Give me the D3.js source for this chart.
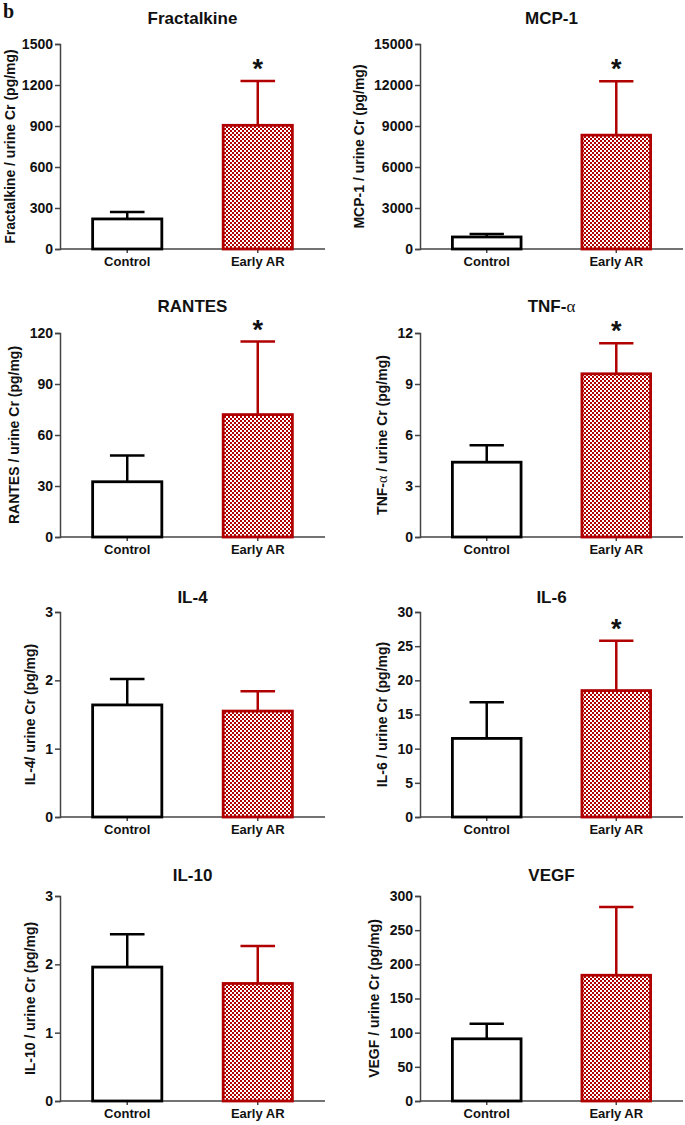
<!DOCTYPE html>
<html>
<head>
<meta charset="utf-8">
<script src="https://cdn.jsdelivr.net/npm/d3@7"></script>
<style>
  body { margin: 0; background: #fff; }
  svg text { font-family: "Liberation Sans", Arial, sans-serif; font-weight: bold; fill: #111; }
</style>
</head>
<body>
<div id="chart"></div>
<script>
// chart data
const groups = ["Control", "Early AR"];
const panelTitles = ["Fractalkine", "MCP-1", "RANTES", "TNF-α", "IL-4", "IL-6", "IL-10", "VEGF"];
const yLabels = [
  "Fractalkine / urine Cr (pg/mg)",
  "MCP-1 / urine Cr (pg/mg)",
  "RANTES / urine Cr (pg/mg)",
  "TNF-α / urine Cr (pg/mg)",
  "IL-4/ urine Cr (pg/mg)",
  "IL-6 / urine Cr (pg/mg)",
  "IL-10 / urine Cr (pg/mg)",
  "VEGF / urine Cr (pg/mg)"
];
const yMax = [1500, 15000, 120, 12, 3, 30, 3, 300];
const yStep = [300, 3000, 30, 3, 1, 5, 1, 50];
const controlMean = [220, 880, 32.5, 4.4, 1.64, 11.5, 1.96, 91];
const controlTop = [271, 1100, 48, 5.4, 2.02, 16.8, 2.44, 113];   // mean + SD
const earlyMean = [905, 8330, 72, 9.6, 1.55, 18.5, 1.72, 184];
const earlyTop = [1230, 12280, 115, 11.4, 1.84, 25.8, 2.27, 284];
const significant = [true, true, true, true, false, true, false, false];

const W = 685, H = 1125;
const red = "#b00000";
// row layout: [axis top, axis zero, title y]
const rows = [[44, 249, 24], [333, 537, 312], [612, 817, 603], [896, 1101, 881]];
const cols = [[60, 325], [420, 683]];

const svg = d3.select("#chart").append("svg")
  .attr("width", W).attr("height", H);

// checkered fill
const pat = svg.append("defs").append("pattern")
  .attr("id", "checker")
  .attr("patternUnits", "userSpaceOnUse")
  .attr("width", 4).attr("height", 4);
pat.append("rect").attr("width", 4).attr("height", 4).attr("fill", "#fff");
pat.append("rect").attr("width", 2).attr("height", 2).attr("fill", red);
pat.append("rect").attr("x", 2).attr("y", 2).attr("width", 2).attr("height", 2).attr("fill", red);

svg.append("text")
  .attr("x", 3).attr("y", 18)
  .style("font-family", "'Liberation Serif', 'Times New Roman', serif")
  .style("font-size", "20px")
  .text("b");

// writes text, with the greek alpha in a serif face like the original
function greekText(sel, str) {
  str.split(/(α)/).forEach(part => {
    if (!part) return;
    const t = sel.append("tspan").text(part);
    if (part === "α") t.style("font-family", "'Liberation Serif', serif").style("font-weight", "normal");
  });
}

panelTitles.forEach((title, i) => {
  const [top, zero, titleY] = rows[Math.floor(i / 2)];
  const [x0, x1] = cols[i % 2];

  const g = svg.append("g");

  const x = d3.scaleBand().domain(groups).range([x0, x1])
    .paddingInner(0.47).paddingOuter(0.25);
  const y = d3.scaleLinear().domain([0, yMax[i]]).range([zero, top]);

  const means = [controlMean[i], earlyMean[i]];
  const tops = [controlTop[i], earlyTop[i]];

  // title
  const tt = g.append("text")
    .attr("x", (x0 + x1) / 2).attr("y", titleY)
    .attr("text-anchor", "middle")
    .style("font-size", "17px");
  greekText(tt, title);

  // y axis
  const yAxis = g.append("g")
    .attr("transform", `translate(${x0},0)`)
    .call(d3.axisLeft(y).tickValues(d3.range(0, yMax[i] + yStep[i] / 2, yStep[i]))
      .tickFormat(d3.format("d")).tickSizeOuter(0).tickSize(5).tickPadding(2));

  // x axis
  const xAxis = g.append("g")
    .attr("transform", `translate(0,${zero})`)
    .call(d3.axisBottom(x).tickSizeOuter(0).tickSize(4).tickPadding(4));
  xAxis.select(".domain").attr("d", `M${x0},0H${x1}`);

  [yAxis, xAxis].forEach((a, k) => {
    a.select(".domain").attr("stroke", "#444").attr("stroke-width", 1.5);
    a.selectAll(".tick line").attr("stroke", "#444").attr("stroke-width", 1.5);
    a.selectAll(".tick text")
      .style("font-family", "'Liberation Sans', Arial, sans-serif")
      .style("font-weight", "bold")
      .style("font-size", k === 0 ? "14px" : "13px")
      .attr("fill", "#111");
  });

  // y label placed just left of the widest tick label, kept inside the page
  let minX = x0;
  yAxis.selectAll(".tick text").each(function () {
    minX = Math.min(minX, x0 + this.getBBox().x);
  });
  const lx = Math.max(minX - 15.5, 10), ly = (top + zero) / 2;
  const yl = g.append("text")
    .attr("transform", `translate(${lx},${ly}) rotate(-90)`)
    .attr("text-anchor", "middle")
    .attr("dominant-baseline", "central")
    .style("font-size", "14px");
  greekText(yl, yLabels[i]);

  // error bars (drawn before bars so bars cover the stem base)
  groups.forEach((grp, j) => {
    const cx = x(grp) + x.bandwidth() / 2;
    const col = j === 0 ? "#000" : red;
    const half = x.bandwidth() / 4;
    g.append("line")
      .attr("x1", cx).attr("x2", cx)
      .attr("y1", y(means[j])).attr("y2", y(tops[j]))
      .attr("stroke", col).attr("stroke-width", 2.5);
    g.append("line")
      .attr("x1", cx - half).attr("x2", cx + half)
      .attr("y1", y(tops[j])).attr("y2", y(tops[j]))
      .attr("stroke", col).attr("stroke-width", 2.5);
  });

  // bars
  g.selectAll("rect.bar")
    .data(groups)
    .join("rect")
    .attr("class", "bar")
    .attr("x", d => x(d))
    .attr("width", x.bandwidth())
    .attr("y", (d, j) => y(means[j]))
    .attr("height", (d, j) => zero - y(means[j]))
    .attr("fill", (d, j) => j === 0 ? "#fff" : "url(#checker)")
    .attr("stroke", (d, j) => j === 0 ? "#000" : red)
    .attr("stroke-width", 2.8);

  // significance star
  if (significant[i]) {
    g.append("text")
      .attr("x", x("Early AR") + x.bandwidth() / 2)
      .attr("y", y(earlyTop[i]) - 17 + 14)
      .attr("text-anchor", "middle")
      .style("font-size", "27px")
      .text("*");
  }
});
</script>
</body>
</html>
